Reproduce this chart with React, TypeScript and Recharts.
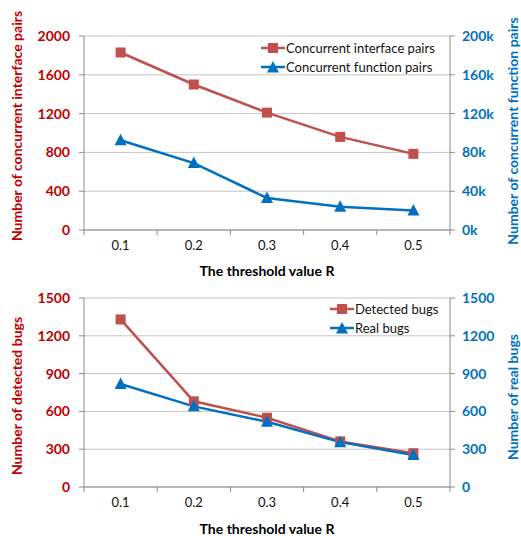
import React from "react";
import { CartesianGrid, Legend, Line, LineChart, XAxis, YAxis } from "recharts";

const categories = ["0.1", "0.2", "0.3", "0.4", "0.5"];
const interfacePairs = [1830, 1500, 1210, 960, 785];
const functionPairs = [92500, 69000, 33000, 24000, 20000];
const detectedBugs = [1330, 680, 550, 362, 268];
const realBugs = [818, 640, 518, 356, 254];

const pairTicksLeft = [0, 400, 800, 1200, 1600, 2000];
const pairTicksRight = [0, 40000, 80000, 120000, 160000, 200000];
const bugTicks = [0, 300, 600, 900, 1200, 1500];

const seriesOrder = ["Concurrent interface pairs", "Concurrent function pairs", "Detected bugs", "Real bugs"];

const RED = "#C0504D";
const RED_TEXT = "#C00000";
const BLUE = "#0070C0";
const AXIS = "#8C8C8C";
const GRID = "#C4C4C4";
const FONT = 'Lato, "Open Sans", sans-serif';

const topData = categories.map((c, i) => ({
  r: c,
  interfacePairs: interfacePairs[i],
  functionPairs: functionPairs[i],
}));
const bottomData = categories.map((c, i) => ({
  r: c,
  detected: detectedBugs[i],
  real: realBugs[i],
}));

const HALF_BAND = 366 / categories.length / 2;

function Square(p: any) {
  if (p.cx == null) return null;
  return <rect x={p.cx - 5} y={p.cy - 5} width={10} height={10} fill={RED} />;
}

function Triangle(p: any) {
  if (p.cx == null) return null;
  const { cx, cy } = p;
  return <path d={`M${cx},${cy - 6.5} L${cx + 6},${cy + 5} L${cx - 6},${cy + 5} Z`} fill={BLUE} />;
}

function XTick(props: any) {
  const { x, y, payload, index } = props;
  const top = y - 11; // axis line
  return (
    <g>
      <line x1={x - HALF_BAND} x2={x - HALF_BAND} y1={top} y2={top + 5} stroke={AXIS} />
      {index === categories.length - 1 && (
        <line x1={x + HALF_BAND} x2={x + HALF_BAND} y1={top} y2={top + 5} stroke={AXIS} />
      )}
      <text x={x} y={y} dy="0.71em" textAnchor="middle" fill="#111" fontSize={13} fontFamily={FONT}>
        {payload.value}
      </text>
    </g>
  );
}

function XTitle(props: any) {
  const vb = props.viewBox;
  return (
    <text x={vb.x + vb.width / 2} y={props.cy} textAnchor="middle" dominantBaseline="central"
      fontSize={14} fontWeight={700} fontFamily={FONT} fill="#000">
      The threshold value R
    </text>
  );
}

function YTitle(props: any) {
  const { viewBox, dx, cy, text, color } = props;
  const cx = viewBox.x + dx;
  return (
    <text x={cx} y={cy} transform={`rotate(-90, ${cx}, ${cy})`} textAnchor="middle"
      dominantBaseline="central" fontSize={14} fontWeight={700} fontFamily={FONT} fill={color}>
      {text}
    </text>
  );
}

function LegendBox({ payload }: any) {
  const items = [...(payload || [])].sort(
    (a: any, b: any) => seriesOrder.indexOf(a.value) - seriesOrder.indexOf(b.value)
  );
  return (
    <div style={{ fontFamily: FONT, fontSize: 13, color: "#111" }}>
      {items.map((e: any) => {
        const red = e.color === RED;
        return (
          <div key={e.value} style={{ display: "flex", alignItems: "center", height: 19 }}>
            <svg width={24} height={14} style={{ marginRight: 1 }}>
              <line x1={0} x2={24} y1={7} y2={7} stroke={e.color} strokeWidth={2.5} />
              {red ? <Square cx={12} cy={7} /> : <Triangle cx={12} cy={7.5} />}
            </svg>
            <span>{e.value}</span>
          </div>
        );
      })}
    </div>
  );
}

const yTick = (fill: string) => ({ fill, fontSize: 14, fontWeight: 700, fontFamily: FONT });
const kFmt = (v: number) => `${v / 1000}k`;

export default function App() {
  return (
    <div style={{ position: "absolute", left: 0, top: 0, width: 521, height: 536, background: "#fff" }}>
      <LineChart width={521} height={280} data={topData} margin={{ top: 36, right: 0, bottom: 0, left: 0 }}>
        <CartesianGrid vertical={false} stroke={GRID} yAxisId="left" />
        <XAxis dataKey="r" height={50} padding={{ left: HALF_BAND, right: HALF_BAND }}
          axisLine={{ stroke: AXIS }} tickLine={false} tickSize={5} tickMargin={6}
          tick={<XTick />} interval={0} label={<XTitle cy={270} />} />
        <YAxis yAxisId="left" width={84} domain={[0, 2000]} ticks={pairTicksLeft} interval={0}
          axisLine={{ stroke: AXIS }} tickLine={{ stroke: AXIS }} tickSize={5} tickMargin={9}
          tick={yTick(RED_TEXT)}
          label={<YTitle dx={16} cy={126} text="Number of concurrent interface pairs" color={RED_TEXT} />} />
        <YAxis yAxisId="right" orientation="right" width={71} domain={[0, 200000]} ticks={pairTicksRight}
          interval={0} tickFormatter={kFmt} axisLine={{ stroke: AXIS }} tickLine={{ stroke: AXIS }}
          tickSize={5} tickMargin={7} tick={yTick(BLUE)}
          label={<YTitle dx={62} cy={131} text="Number of concurrent function pairs" color={BLUE} />} />
        <Legend layout="vertical" align="center" verticalAlign="middle" content={<LegendBox />}
          wrapperStyle={{ top: 38, left: 261, width: "auto" }} />
        <Line yAxisId="left" dataKey="interfacePairs" name="Concurrent interface pairs" stroke={RED}
          strokeWidth={2.5} dot={(p: any) => <Square key={`s${p.index}`} {...p} />} isAnimationActive={false} />
        <Line yAxisId="right" dataKey="functionPairs" name="Concurrent function pairs" stroke={BLUE}
          strokeWidth={2.5} dot={(p: any) => <Triangle key={`t${p.index}`} {...p} />} isAnimationActive={false} />
      </LineChart>
      <LineChart width={521} height={256} data={bottomData} margin={{ top: 18, right: 0, bottom: 0, left: 0 }}>
        <CartesianGrid vertical={false} stroke={GRID} yAxisId="left" />
        <XAxis dataKey="r" height={49} padding={{ left: HALF_BAND, right: HALF_BAND }}
          axisLine={{ stroke: AXIS }} tickLine={false} tickSize={5} tickMargin={6}
          tick={<XTick />} interval={0} label={<XTitle cy={528 - 280} />} />
        <YAxis yAxisId="left" width={84} domain={[0, 1500]} ticks={bugTicks} interval={0}
          axisLine={{ stroke: AXIS }} tickLine={{ stroke: AXIS }} tickSize={5} tickMargin={9}
          tick={yTick(RED_TEXT)}
          label={<YTitle dx={16} cy={396 - 280} text="Number of detected bugs" color={RED_TEXT} />} />
        <YAxis yAxisId="right" orientation="right" width={71} domain={[0, 1500]} ticks={bugTicks}
          interval={0} axisLine={{ stroke: AXIS }} tickLine={{ stroke: AXIS }} tickSize={5} tickMargin={7}
          tick={yTick(BLUE)}
          label={<YTitle dx={62} cy={397 - 280} text="Number of real bugs" color={BLUE} />} />
        <Legend layout="vertical" align="center" verticalAlign="middle" content={<LegendBox />}
          wrapperStyle={{ top: 19, left: 330, width: "auto" }} />
        <Line yAxisId="left" dataKey="detected" name="Detected bugs" stroke={RED} strokeWidth={2.5}
          dot={(p: any) => <Square key={`s${p.index}`} {...p} />} isAnimationActive={false} />
        <Line yAxisId="right" dataKey="real" name="Real bugs" stroke={BLUE} strokeWidth={2.5}
          dot={(p: any) => <Triangle key={`t${p.index}`} {...p} />} isAnimationActive={false} />
      </LineChart>
    </div>
  );
}
